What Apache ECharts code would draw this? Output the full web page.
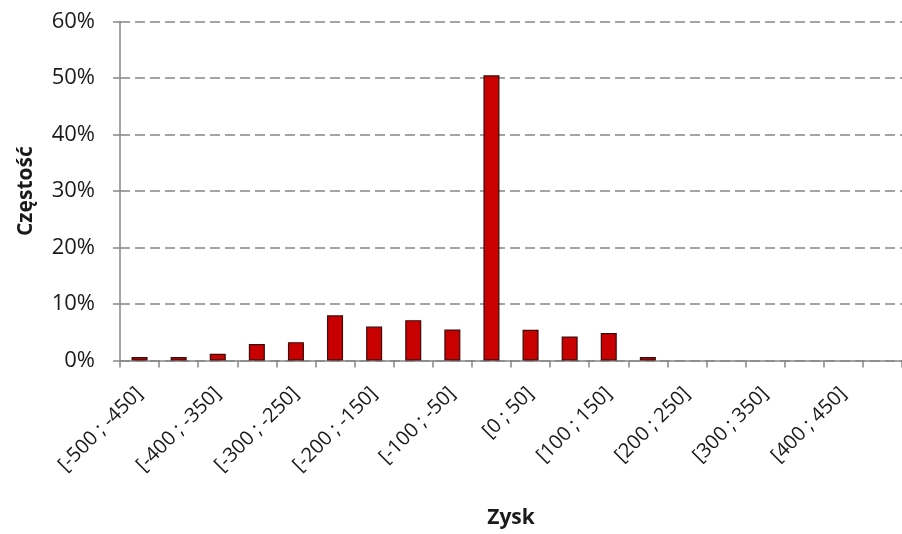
<!DOCTYPE html>
<html>
<head>
<meta charset="utf-8">
<title>Zysk – histogram</title>
<script src="https://cdn.jsdelivr.net/npm/echarts@6/dist/echarts.min.js"></script>
<style>
  html, body { margin: 0; padding: 0; background: #ffffff; }
  #chart { width: 902px; height: 534px; }
</style>
</head>
<body>
<div id="chart"></div>
<script>
// Profit bins (Zysk), 50-wide intervals
const categories = [
  '[-500 ; -450]', '[-450 ; -400]', '[-400 ; -350]', '[-350 ; -300]',
  '[-300 ; -250]', '[-250 ; -200]', '[-200 ; -150]', '[-150 ; -100]',
  '[-100 ; -50]', '[-50 ; 0]', '[0 ; 50]', '[50 ; 100]',
  '[100 ; 150]', '[150 ; 200]', '[200 ; 250]', '[250 ; 300]',
  '[300 ; 350]', '[350 ; 400]', '[400 ; 450]', '[450 ; 500]'
];

// Relative frequency of each bin, in percent
const frequency = [
  0.6, 0.6, 1.2, 2.9, 3.25, 8.0, 6.0, 7.15, 5.5, 50.5,
  5.45, 4.25, 4.85, 0.6, 0, 0, 0, 0, 0, 0
];

// Value axis ticks (percent)
const yTicks = { min: 0, max: 60, interval: 10 };

const axisGrey = '#868686';
const textFont = 'Open Sans';

// Empty bins get no outline so they leave no mark on the axis
const barData = frequency.map(v => (v === 0 ? { value: v, itemStyle: { borderWidth: 0 } } : v));

const chart = echarts.init(document.getElementById('chart'), null, { renderer: 'canvas' });

chart.setOption({
  backgroundColor: '#ffffff',
  animation: false,
  grid: { left: 120, right: -4, top: 21.7, bottom: 173.5, containLabel: false },
  xAxis: {
    type: 'category',
    data: categories,
    boundaryGap: true,
    name: 'Zysk',
    nameLocation: 'middle',
    nameGap: 147,
    nameTextStyle: { fontFamily: textFont, fontWeight: 'bold', fontSize: 21, color: '#1a1a1a' },
    axisLine: { show: true, lineStyle: { color: axisGrey, width: 1.5 } },
    axisTick: { show: true, interval: 0, length: 7, alignWithLabel: false, lineStyle: { color: axisGrey, width: 1.5 } },
    axisLabel: {
      interval: 1,
      rotate: 45,
      margin: 30,
      padding: [20, 0, 0, 0],
      fontFamily: textFont,
      fontSize: 20,
      color: '#1a1a1a'
    },
    splitLine: { show: false }
  },
  yAxis: {
    type: 'value',
    min: yTicks.min,
    max: yTicks.max,
    interval: yTicks.interval,
    name: 'Częstość',
    nameLocation: 'middle',
    nameGap: 83,
    nameRotate: 90,
    nameTextStyle: { fontFamily: textFont, fontWeight: 'bold', fontSize: 21, color: '#1a1a1a' },
    axisLine: { show: true, lineStyle: { color: axisGrey, width: 1.5 } },
    axisTick: { show: true, length: 7, lineStyle: { color: axisGrey, width: 1.5 } },
    axisLabel: {
      formatter: '{value}%',
      margin: 25,
      fontFamily: textFont,
      fontSize: 22,
      color: '#1a1a1a'
    },
    splitLine: {
      show: true,
      lineStyle: { color: axisGrey, width: 1.5, type: [10, 5] }
    }
  },
  series: [{
    type: 'bar',
    data: barData,
    barWidth: '41%',
    itemStyle: {
      color: '#c80000',
      borderColor: '#3f0a0a',
      borderWidth: 1.2
    }
  }]
});
</script>
</body>
</html>
